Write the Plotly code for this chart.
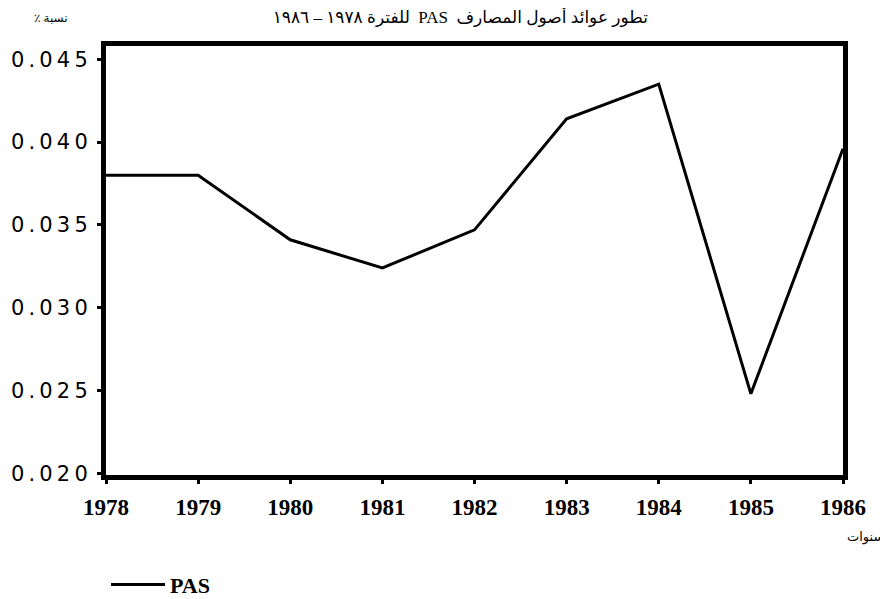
import plotly.graph_objects as go

years = [1978, 1979, 1980, 1981, 1982, 1983, 1984, 1985, 1986]
pas = [0.0380, 0.0380, 0.0341, 0.0324, 0.0347, 0.0414, 0.0435, 0.0248, 0.0396]

y_ticks = [0.020, 0.025, 0.030, 0.035, 0.040, 0.045]
y_tick_text = ["\u2009".join(f"{v:.3f}") for v in y_ticks]
x_tick_text = [str(y) for y in years]

title_text = "\u202Bتطور عوائد أصول المصارف  PAS  للفترة ١٩٧٨ – ١٩٨٦\u202C"
y_title = "\u202Bنسبة ٪\u202C"
x_title = "سنوات"

# page body has an 8px margin, so the figure is sized to fit inside the window
W, H = 880, 591

fig = go.Figure()
fig.add_trace(go.Scatter(
    x=years, y=pas, mode="lines", name="PAS",
    line=dict(color="black", width=3),
))

fig.update_layout(
    width=W, height=H,
    margin=dict(l=98, r=45, t=38, b=124, autoexpand=False),
    paper_bgcolor="white", plot_bgcolor="white",
    title=dict(text=title_text, x=0.514, xanchor="center", y=1 - 9 / H, yanchor="middle",
               font=dict(family="Liberation Serif, DejaVu Sans", size=17, color="black")),
    showlegend=True,
    legend=dict(x=0.0, y=-0.256, xanchor="left", yanchor="middle", itemwidth=54,
                font=dict(family="Liberation Serif", size=22, color="black", weight="bold"),
                bgcolor="rgba(0,0,0,0)"),
    xaxis=dict(
        range=[1978, 1986], tickvals=years, ticktext=x_tick_text,
        showgrid=False, zeroline=False, automargin=False,
        showline=True, linewidth=5, linecolor="black", mirror=True,
        ticks="outside", ticklen=4, tickwidth=3, tickcolor="black",
        ticklabelstandoff=3,
        tickfont=dict(family="Liberation Serif", size=23, color="black", weight="bold"),
    ),
    yaxis=dict(
        range=[0.0199, 0.0458], tickvals=y_ticks, ticktext=y_tick_text,
        showgrid=False, zeroline=False, automargin=False,
        showline=True, linewidth=5, linecolor="black", mirror=True,
        ticks="outside", ticklen=4, tickwidth=3, tickcolor="black",
        ticklabelstandoff=5,
        tickfont=dict(family="DejaVu Sans", size=21, color="black"),
    ),
    annotations=[
        dict(text=y_title, xref="paper", yref="paper", x=-0.0746, y=1.0862,
             showarrow=False, xanchor="center", yanchor="top",
             font=dict(family="Liberation Serif, DejaVu Sans", size=12, color="black")),
        dict(text=x_title, xref="paper", yref="paper", x=1.031, y=-0.1445,
             showarrow=False, xanchor="center", yanchor="middle",
             font=dict(family="Liberation Serif, DejaVu Sans", size=13, color="black")),
    ],
)

fig.write_html("out.html")
